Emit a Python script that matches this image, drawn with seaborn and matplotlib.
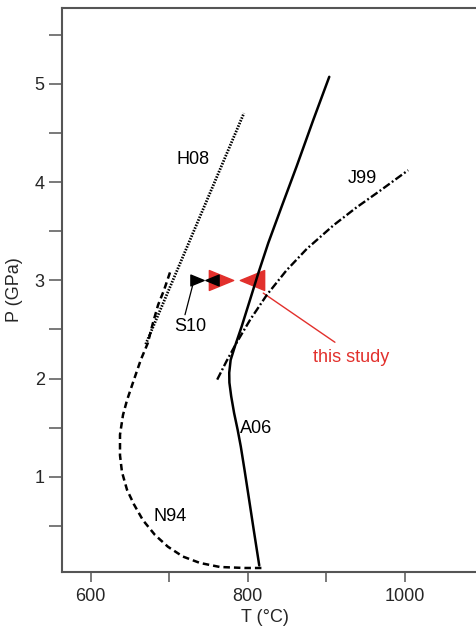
import matplotlib
matplotlib.use("Agg")
import matplotlib.pyplot as plt
import seaborn as sns
import pandas as pd
from matplotlib.path import Path

# Phase-boundary curves, temperature (°C) vs pressure (GPa)
a06_T = [814.5, 807.5, 801.0, 795.8, 791.0, 787.0, 782.5, 778.8, 776.5, 776.3,
         778.1, 783.6, 792.1, 802.7, 813.2, 826, 843, 862.1, 883.2, 903.6]
a06_P = [0.10, 0.46, 0.80, 1.07, 1.31, 1.48, 1.65, 1.82, 1.96, 2.06,
         2.19, 2.33, 2.53, 2.80, 3.07, 3.38, 3.75, 4.16, 4.63, 5.07]

n94_T = [700.9, 693.3, 685.8, 679.0, 672.6, 663.7, 653.8, 646.2, 641.1, 637.3,
         637.3, 639.8, 646.2, 655.1, 666.5, 681.8, 698.3, 717.4, 739.1, 764.5,
         796.3, 818.0]
n94_P = [3.08, 2.90, 2.75, 2.56, 2.36, 2.19, 1.96, 1.78, 1.63, 1.43,
         1.22, 1.05, 0.87, 0.72, 0.56, 0.41, 0.29, 0.19, 0.125, 0.084,
         0.074, 0.074]

h08_T = [670, 795]
h08_P = [2.35, 4.70]

j99_T = [761, 773, 786, 803, 824, 849, 875, 909, 938, 968, 1004]
j99_P = [1.99, 2.18, 2.37, 2.60, 2.85, 3.10, 3.32, 3.56, 3.74, 3.91, 4.12]

# Temperature brackets at 3 GPa
study_T = [766, 805]
study_P = [3.0, 3.0]
s10_T = [735, 755]
s10_P = [3.0, 3.0]

curve_labels = ["H08", "J99", "A06", "N94", "S10"]
label_T = [730.5, 945.6, 811, 701, 727.3]
label_P = [4.23, 4.04, 1.49, 0.60, 2.53]

x_major = [600, 800, 1000]
x_minor = [700, 900]
y_major = [1, 2, 3, 4, 5]
y_minor = [0.5, 1.5, 2.5, 3.5, 4.5, 5.5]

sns.set_style("ticks")
plt.rcParams["font.family"] = ["Liberation Sans", "DejaVu Sans"]

RED = "#e2302c"
AX = "#555555"

fig = plt.figure(figsize=(4.77, 6.29), dpi=100)
ax = fig.add_axes([0.130, 0.0906, 0.870, 0.8967])

# Triangle markers, wider than tall
right_tri = Path([(1, 0), (-1, 0.82), (-1, -0.82), (1, 0)], closed=True)
left_tri = Path([(-1, 0), (1, 0.82), (1, -0.82), (-1, 0)], closed=True)

ax.plot(study_T[0], study_P[0], marker=right_tri, ms=17.5, color=RED, ls="none", zorder=2)
ax.plot(study_T[1], study_P[1], marker=left_tri, ms=17.5, color=RED, ls="none", zorder=2)
ax.plot(s10_T[0], s10_P[0], marker=right_tri, ms=9.5, color="black", ls="none", zorder=3)
ax.plot(s10_T[1], s10_P[1], marker=left_tri, ms=9.5, color="black", ls="none", zorder=3)

curves = [
    (a06_T, a06_P, "-", 1.8),
    (n94_T, n94_P, (0, (2.6, 1.6)), 1.8),
    (h08_T, h08_P, (0, (0.55, 0.5)), 2.0),
    (j99_T, j99_P, (0, (3.4, 1.1, 0.8, 1.1)), 1.7),
]
for T, P, ls, lw in curves:
    df = pd.DataFrame({"T": T, "P": P})
    sns.lineplot(data=df, x="T", y="P", sort=False, estimator=None,
                 color="black", lw=lw, ax=ax, zorder=4)
    line = ax.lines[-1]
    line.set_linestyle(ls)
    line.set_solid_joinstyle("round")
    line.set_dash_joinstyle("round")

# Leader lines
ax.plot([729.8, 720], [2.95, 2.65], color="black", lw=0.9, zorder=3)
ax.plot([819.6, 910.8], [2.87, 2.37], color=RED, lw=1.0, zorder=3)

for name, t, p in zip(curve_labels, label_T, label_P):
    ax.text(t, p, name, ha="center", va="center", fontsize=13, color="black")
ax.text(932, 2.22, "this study", ha="center", va="center", fontsize=13, color=RED)

ax.set_xlim(563.5, 1091.6)
ax.set_ylim(0.033, 5.77)

ax.set_xticks(x_major)
ax.set_xticks(x_minor, minor=True)
ax.set_yticks(y_major)
ax.set_yticks(y_minor, minor=True)
ax.tick_params(axis="y", which="both", length=9.5, width=1.1, color=AX,
               direction="out", labelsize=13, pad=3)
ax.tick_params(axis="x", which="both", length=7.5, width=1.1, color=AX,
               direction="out", labelsize=13, pad=4)

for side in ["left", "top", "bottom"]:
    ax.spines[side].set_color(AX)
    ax.spines[side].set_linewidth(1.5)
ax.spines["right"].set_visible(False)

ax.set_xlabel("T (°C)", fontsize=13)
ax.set_ylabel("P (GPa)", fontsize=13)
ax.xaxis.set_label_coords(0.49, -0.065)
ax.yaxis.set_label_coords(-0.095, 0.5)

fig.savefig("out.png", dpi=100)
